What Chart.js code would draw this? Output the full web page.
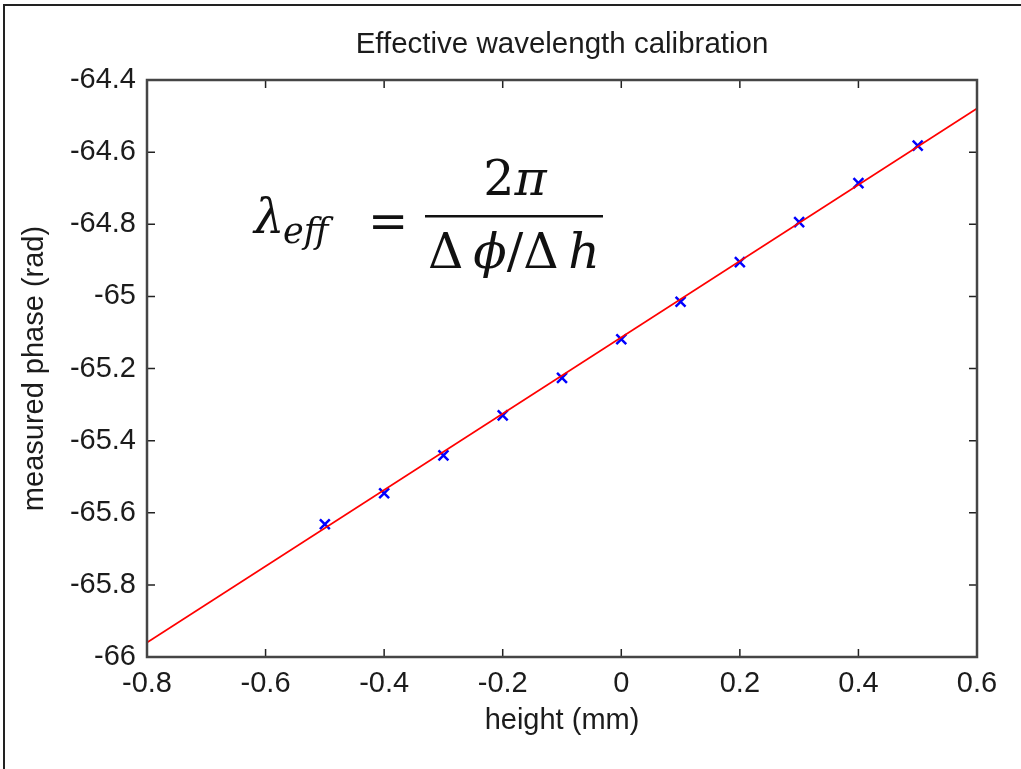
<!DOCTYPE html>
<html>
<head>
<meta charset="utf-8">
<script src="https://cdn.jsdelivr.net/npm/chart.js@4/dist/chart.umd.min.js"></script>
<style>
  body { margin: 0; background: #fff; }
  #wrap { width: 1021px; height: 769px; position: relative; }
</style>
</head>
<body>
<div id="wrap"><canvas id="grafico"></canvas></div>
<script>
// datos
const alturas = [-0.5, -0.4, -0.3, -0.2, -0.1, 0, 0.1, 0.2, 0.3, 0.4, 0.5];
const fases = [-65.632, -65.546, -65.441, -65.330, -65.226, -65.119, -65.015, -64.905, -64.794, -64.686, -64.582];
const ajusteAlturas = [-0.8, 0.6];
const ajusteFases = [-65.960, -64.479];
const ticksX = [-0.8, -0.6, -0.4, -0.2, 0, 0.2, 0.4, 0.6];
const ticksY = [-66, -65.8, -65.6, -65.4, -65.2, -65, -64.8, -64.6, -64.4];
const titulo = 'Effective wavelength calibration';

const colorTexto = '#1c1c1c';
const fuente = "'Liberation Sans', Arial, sans-serif";
const fmt = v => String(+v.toFixed(1));

// titulo, marco, ticks hacia adentro y la ecuacion
const extras = {
    id: 'extras',
    afterDraw(chart) {
        const c = chart.ctx;
        const a = chart.chartArea;
        const sx = chart.scales.x, sy = chart.scales.y;
        c.save();
        c.strokeStyle = '#222';
        c.lineWidth = 1.5;
        ticksX.forEach(v => {
            const p = sx.getPixelForValue(v);
            c.beginPath();
            c.moveTo(p, a.bottom); c.lineTo(p, a.bottom - 8);
            c.moveTo(p, a.top); c.lineTo(p, a.top + 8);
            c.stroke();
        });
        ticksY.forEach(v => {
            const p = sy.getPixelForValue(v);
            c.beginPath();
            c.moveTo(a.left, p); c.lineTo(a.left + 8, p);
            c.moveTo(a.right, p); c.lineTo(a.right - 8, p);
            c.stroke();
        });
        c.strokeStyle = '#454545';
        c.lineWidth = 2.5;
        c.strokeRect(a.left, a.top, a.right - a.left, a.bottom - a.top);

        // borde de la figura
        c.strokeStyle = '#222';
        c.lineWidth = 2;
        c.beginPath();
        c.moveTo(4, 769); c.lineTo(4, 5); c.lineTo(1021, 5);
        c.stroke();

        // titulo centrado sobre el area del grafico
        c.fillStyle = colorTexto;
        c.font = '29.5px ' + fuente;
        c.textAlign = 'center';
        c.textBaseline = 'middle';
        c.fillText(titulo, (a.left + a.right) / 2, 45);

        // ecuacion
        const serif = "'DejaVu Serif', 'Liberation Serif', serif";
        c.fillStyle = '#111';
        c.textBaseline = 'alphabetic';
        c.textAlign = 'left';
        c.font = 'italic 48px ' + serif;
        c.fillText('λ', 254, 233);
        c.font = 'italic 35px ' + serif;
        c.fillText('eff', 283, 243);
        c.font = '48px ' + serif;
        c.fillText('=', 368, 238);
        c.fillRect(425, 215, 178, 2.5);

        const trozos = (partes, cx, y) => {
            let ancho = 0;
            partes.forEach(p => { c.font = (p[1] ? 'italic ' : '') + '49px ' + serif; ancho += c.measureText(p[0]).width; });
            let x = cx - ancho / 2;
            partes.forEach(p => {
                c.font = (p[1] ? 'italic ' : '') + '49px ' + serif;
                c.fillText(p[0], x, y);
                x += c.measureText(p[0]).width;
            });
        };
        trozos([['2', false], ['π', true]], 515, 195);
        trozos([['Δ', false], ['\u2009ϕ', true], ['/', false], ['Δ', false], ['\u2009h', true]], 514, 268);
        c.restore();
    }
};

const ctx = document.getElementById('grafico').getContext('2d');
new Chart(ctx, {
    type: 'scatter',
    data: {
        datasets: [{
            label: 'ajuste',
            data: ajusteAlturas.map((x, i) => ({ x: x, y: ajusteFases[i] })),
            showLine: true,
            borderColor: '#ff0000',
            borderWidth: 1.8,
            pointRadius: 0
        }, {
            label: 'medido',
            data: alturas.map((x, i) => ({ x: x, y: fases[i] })),
            pointStyle: 'crossRot',
            pointRadius: 7,
            borderColor: '#0000ff',
            backgroundColor: '#0000ff',
            pointBorderWidth: 2.5
        }]
    },
    options: {
        responsive: true,
        maintainAspectRatio: false,
        animation: false,
        layout: { padding: { left: 0, right: 44, top: 80, bottom: 0 } },
        plugins: {
            legend: { display: false },
            tooltip: { enabled: false },
            title: { display: false }
        },
        scales: {
            x: {
                type: 'linear',
                min: -0.8,
                max: 0.6,
                afterBuildTicks: s => { s.ticks = ticksX.map(v => ({ value: v })); },
                afterFit: s => { s.height = 112; },
                grid: { display: false, drawTicks: false },
                border: { display: false },
                ticks: {
                    color: colorTexto,
                    padding: 10,
                    font: { family: fuente, size: 29 },
                    callback: v => fmt(v)
                },
                title: {
                    display: true,
                    text: 'height (mm)',
                    color: colorTexto,
                    font: { family: fuente, size: 29 },
                    padding: { bottom: 31 }
                }
            },
            y: {
                type: 'linear',
                min: -66,
                max: -64.4,
                afterBuildTicks: s => { s.ticks = ticksY.map(v => ({ value: v })); },
                afterFit: s => { s.width = 147; },
                grid: { display: false, drawTicks: false },
                border: { display: false },
                ticks: {
                    color: colorTexto,
                    padding: 11,
                    font: { family: fuente, size: 29 },
                    callback: v => fmt(v)
                },
                title: {
                    display: true,
                    text: 'measured phase (rad)',
                    color: colorTexto,
                    font: { family: fuente, size: 29 },
                    padding: { top: 18 }
                }
            }
        }
    },
    plugins: [extras]
});
</script>
</body>
</html>
